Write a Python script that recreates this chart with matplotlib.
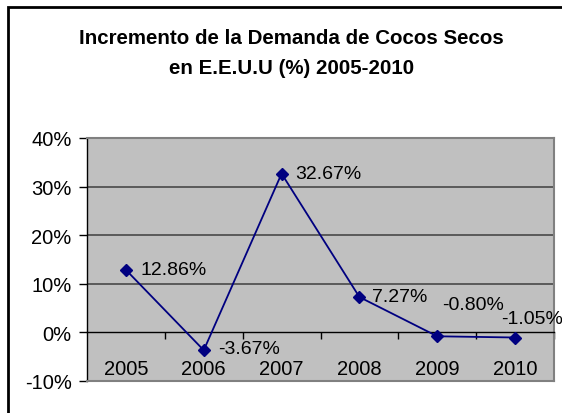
import numpy as np
import matplotlib
matplotlib.use("Agg")
import matplotlib.pyplot as plt
from matplotlib.patches import Rectangle

plt.rcParams['font.family'] = ['Liberation Sans', 'DejaVu Sans']

# data
years = ['2005', '2006', '2007', '2008', '2009', '2010']
demand_pct = [12.86, -3.67, 32.67, 7.27, -0.80, -1.05]
label_offsets = [(15, 0), (14, 2), (14, 0), (13, 1), (5, 32), (-14, 19)]  # pixels

fig = plt.figure(figsize=(5.62, 4.14), dpi=100)
fig.patch.set_facecolor('white')

# outer chart border (runs off the right / bottom of the picture)
fig.patches.append(Rectangle((8 / 562, -0.1), 1.1, 1 - 8 / 414 + 0.1,
                             transform=fig.transFigure, fill=False,
                             edgecolor='black', linewidth=2))

fig.text(0.518, 0.871, 'Incremento de la Demanda de Cocos Secos\nen E.E.U.U (%) 2005-2010',
         ha='center', va='center', fontsize=14.8, fontweight='bold',
         linespacing=1.75)

ax = fig.add_axes([87 / 562, 1 - 382 / 414, (554 - 87) / 562, (382 - 139) / 414])
ax.set_facecolor('#c0c0c0')

x = np.arange(len(years))
ax.plot(x, demand_pct, color='#000080', linewidth=1.3, marker='D',
        markersize=6.5, zorder=3)

for xi, v, (dx, dy) in zip(x, demand_pct, label_offsets):
    ax.annotate(f'{v:.2f}%', (xi, v), xytext=(dx, dy), textcoords='offset pixels',
                ha='left', va='center', fontsize=14, annotation_clip=False)

ax.set_xlim(-0.5, 5.5)
ax.set_ylim(-10, 40)
ax.set_yticks([-10, 0, 10, 20, 30, 40])
ax.set_yticklabels(['-10%', '0%', '10%', '20%', '30%', '40%'])

for yv in [10, 20, 30]:
    ax.axhline(yv, color='#484848', linewidth=1.2, zorder=1)

# category axis crosses at 0
ax.spines['bottom'].set_position(('data', 0))
ax.spines['bottom'].set_color('black')
ax.spines['bottom'].set_linewidth(1.0)
ax.spines['left'].set_color('black')
ax.spines['left'].set_linewidth(1.0)
for s in ['top', 'right']:
    ax.spines[s].set_color('#808080')
    ax.spines[s].set_linewidth(1.5)
ax.plot([0, 1], [0, 0], transform=ax.transAxes, color='#808080',
        linewidth=1.5, clip_on=False, zorder=4)

ax.set_xticks(np.arange(0.5, 6, 1))
ax.set_xticklabels([])
ax.set_xticks(x, minor=True)
ax.set_xticklabels(years, minor=True)
ax.tick_params(axis='x', which='major', direction='out', length=5, width=1)
ax.tick_params(axis='x', which='minor', length=0, pad=19, labelsize=14.5)
ax.tick_params(axis='y', direction='out', length=6, width=1, pad=5, labelsize=14.5)

fig.savefig('out.png', dpi=100)
